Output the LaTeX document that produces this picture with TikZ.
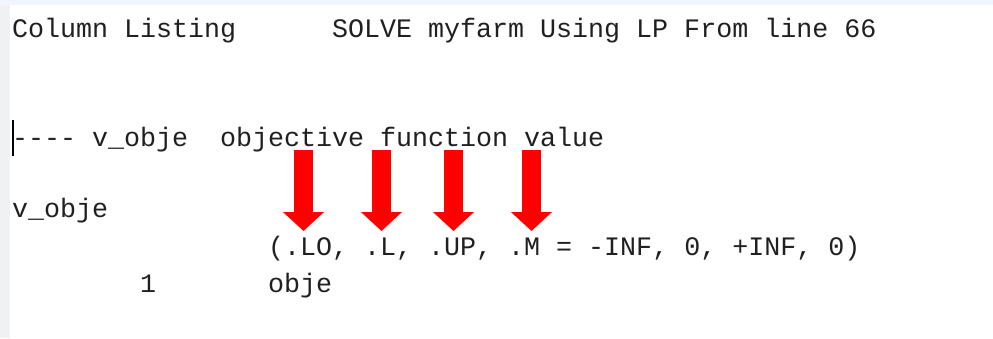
\documentclass[tikz,border=0pt]{standalone}
\usepackage{tikz}
\usetikzlibrary{calc, positioning, arrows.meta}
\usepackage{fontspec}
\setmonofont{Liberation Mono}
\usepackage{xcolor}

\definecolor{barblue}{HTML}{EFF6FD}
\definecolor{gutter}{HTML}{F0F1F3}
\definecolor{listtext}{HTML}{202020}
\definecolor{markred}{HTML}{FF0000}

\tikzset{
    listing/.style={anchor=base west, inner sep=0pt, text=listtext,
        font=\ttfamily\fontsize{26.67}{32}\selectfont},
    redarrow/.style={draw=markred, line width=19pt,
        -{Triangle[length=19pt, width=40pt]}, shorten >=0pt}
}

\begin{document}
\begin{tikzpicture}[x=1pt, y=-1pt]
    % screen background
    \fill[white] (0,0) rectangle (993,338);
    \fill[barblue] (0,0) rectangle (993,5);
    \fill[gutter] (0,5) rectangle (10,338);
    \useasboundingbox (0,0) rectangle (993,338);

    % one column of the listing is 16 units wide
    \node[listing] (title)    at (12,37)   {Column Listing};
    \node[listing] (solve)    at (332,37)  {SOLVE myfarm Using LP From line 66};
    \node[listing] (header)   at (12,146)  {---- v\_obje};
    \node[listing] (headdesc) at (220,146) {objective function value};
    \node[listing] (vname)    at (12,217)  {v\_obje};
    \node[listing] (bounds)   at (268,255) {(.LO, .L, .UP, .M = -INF, 0, +INF, 0)};
    \node[listing] (rownum)   at (140,292) {1};
    \node[listing] (rowname)  at (268,292) {obje};

    % text cursor
    \draw[black, line width=2.5pt] (13,120) -- (13,156);

    % arrows pointing at the bound fields
    \foreach \ax [count=\i] in {303.5, 381.5, 453.5, 531.5} {
        \coordinate (top\i) at (\ax,150);
        \coordinate (tip\i) at (\ax,231);
        \draw[redarrow] (top\i) -- (tip\i);
    }
\end{tikzpicture}
\end{document}
